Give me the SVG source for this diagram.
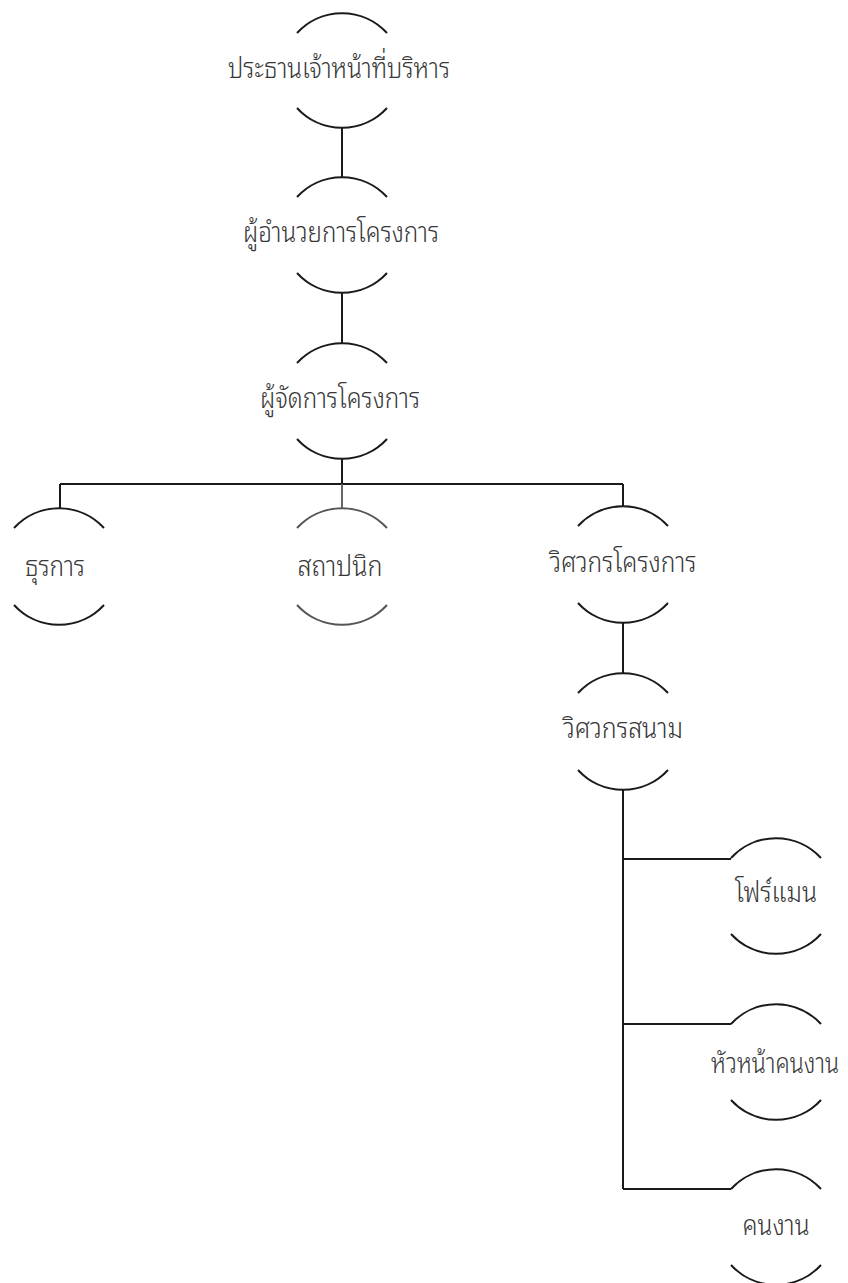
<svg xmlns="http://www.w3.org/2000/svg" width="848" height="1283" viewBox="0 0 848 1283">
<style>
.arc{fill:none;stroke:#1a1a1a;stroke-width:2}
.arc.g{stroke:#555}
.ln{fill:none;stroke:#1a1a1a;stroke-width:2}
.ln.g{stroke:#666}
text{font-family:"Noto Sans Thai Looped","Noto Sans",sans-serif;font-weight:300;font-size:29px;fill:#383838;text-anchor:middle}
</style>
<defs>
<path id="top" d="M-45,20 A61,61 0 0 1 45,20"/>
<path id="bot" d="M-45,-20 A61,61 0 0 0 45,-20"/>
</defs>
<rect width="848" height="1283" fill="#fff"/>
<g id="connectors">
<path class="ln" d="M342,128V177M342,293V343M342,459V484M60,484H623M60,484V508M623,484V506M623,623V673M623,790V1189M623,859H731M623,1024H731M623,1189H731"/>
<path class="ln g" d="M342,484V508"/>
</g>
<g id="n1"><use href="#top" class="arc" x="342" y="13"/><use href="#bot" class="arc" x="342" y="128"/><text x="339" y="78" textLength="222" lengthAdjust="spacingAndGlyphs">ประธานเจ้าหน้าที่บริหาร</text></g>
<g id="n2"><use href="#top" class="arc" x="342" y="177"/><use href="#bot" class="arc" x="342" y="293"/><text x="341" y="242" textLength="196" lengthAdjust="spacingAndGlyphs">ผู้อำนวยการโครงการ</text></g>
<g id="n3"><use href="#top" class="arc" x="342" y="343"/><use href="#bot" class="arc" x="342" y="459"/><text x="340" y="408" textLength="160" lengthAdjust="spacingAndGlyphs">ผู้จัดการโครงการ</text></g>
<g id="n4"><use href="#top" class="arc" x="59" y="508"/><use href="#bot" class="arc" x="59" y="625"/><text x="55" y="576" textLength="60" lengthAdjust="spacingAndGlyphs">ธุรการ</text></g>
<g id="n5"><use href="#top" class="arc g" x="342" y="508"/><use href="#bot" class="arc g" x="342" y="625"/><text x="340" y="576" textLength="85" lengthAdjust="spacingAndGlyphs">สถาปนิก</text></g>
<g id="n6"><use href="#top" class="arc" x="623" y="506"/><use href="#bot" class="arc" x="623" y="623"/><text x="623" y="572" textLength="147" lengthAdjust="spacingAndGlyphs">วิศวกรโครงการ</text></g>
<g id="n7"><use href="#top" class="arc" x="623" y="673"/><use href="#bot" class="arc" x="623" y="790"/><text x="623" y="738" textLength="120" lengthAdjust="spacingAndGlyphs">วิศวกรสนาม</text></g>
<g id="n8"><use href="#top" class="arc" x="776" y="838"/><use href="#bot" class="arc" x="776" y="954"/><text x="776" y="902" textLength="82" lengthAdjust="spacingAndGlyphs">โฟร์แมน</text></g>
<g id="n9"><use href="#top" class="arc" x="776" y="1004"/><use href="#bot" class="arc" x="776" y="1120"/><text x="775" y="1073" font-size="26" textLength="128" lengthAdjust="spacingAndGlyphs">หัวหน้าคนงาน</text></g>
<g id="n10"><use href="#top" class="arc" x="776" y="1169"/><use href="#bot" class="arc" x="776" y="1285"/><text x="776" y="1235" textLength="67" lengthAdjust="spacingAndGlyphs">คนงาน</text></g>
</svg>
